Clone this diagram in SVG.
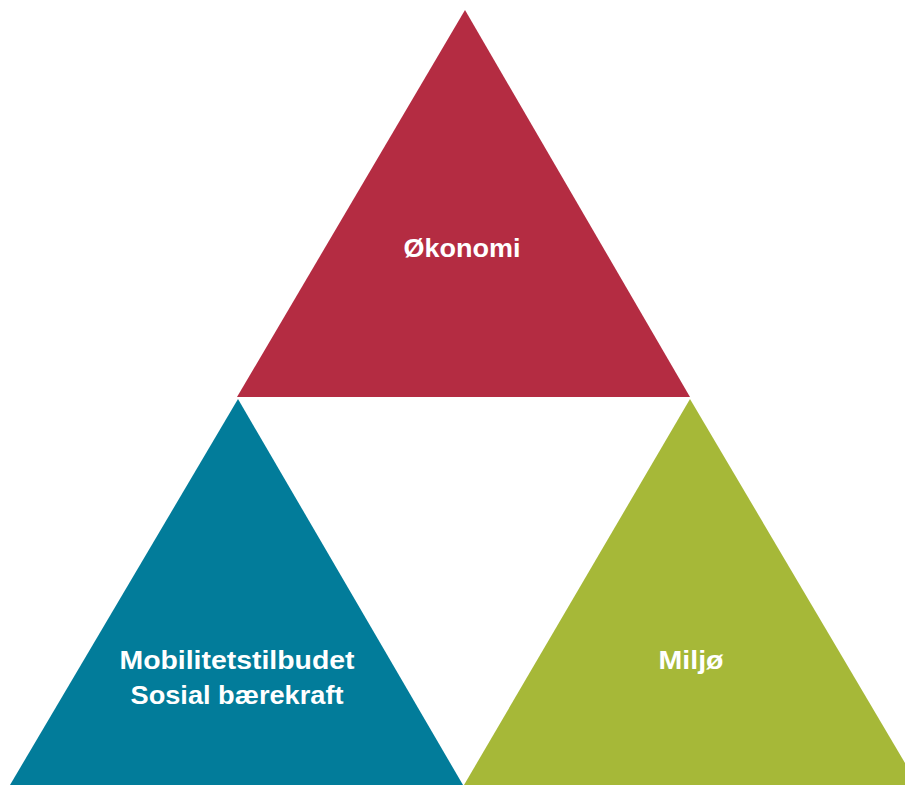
<svg xmlns="http://www.w3.org/2000/svg" width="905" height="785" viewBox="0 0 905 785">
<style>
.lbl{font-family:"Liberation Sans",Arial,sans-serif;font-weight:bold;font-size:25px;fill:#ffffff;text-anchor:middle}
</style>
<rect width="905" height="785" fill="#ffffff"/>
<g id="okonomi">
<polygon points="465,10 237,397 690,397" fill="#B42C42"/>
<text class="lbl" x="462" y="257" textLength="117" lengthAdjust="spacingAndGlyphs">Økonomi</text>
</g>
<g id="sosial">
<polygon points="238,399 10,785 463,785" fill="#027C9A"/>
<text class="lbl" x="237" y="669" textLength="235" lengthAdjust="spacingAndGlyphs">Mobilitetstilbudet</text>
<text class="lbl" x="237" y="704" textLength="213" lengthAdjust="spacingAndGlyphs">Sosial bærekraft</text>
</g>
<g id="miljo">
<polygon points="690,399 464,785 918,785" fill="#A6B838"/>
<text class="lbl" x="691" y="669" textLength="65" lengthAdjust="spacingAndGlyphs">Miljø</text>
</g>
<g id="connectors"/>
</svg>
